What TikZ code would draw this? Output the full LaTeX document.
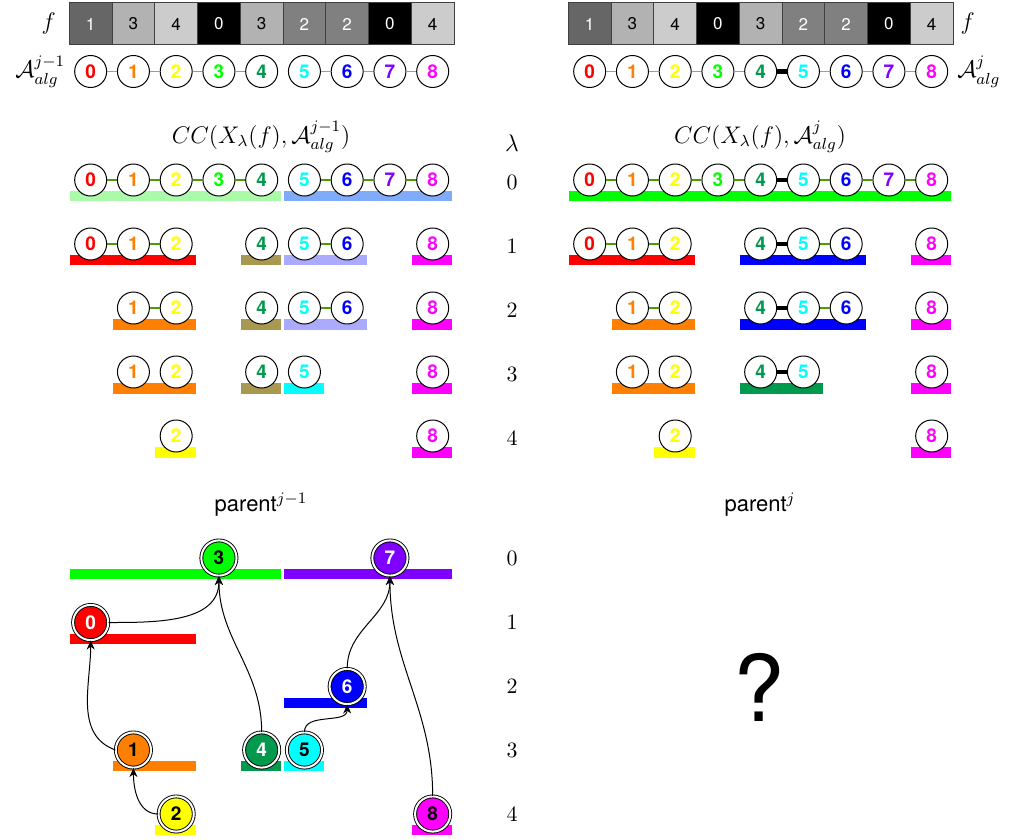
\documentclass[tikz,border=0pt]{standalone}
\usepackage{amsmath,amssymb}
\usepackage{fontspec}
\setsansfont{TeX Gyre Heros}
\usepackage{tikz}
\usetikzlibrary{arrows.meta,positioning,calc}
\usepackage{xcolor}
% one colour per vertex
\definecolor{V0}{HTML}{FF0000}
\definecolor{V1}{HTML}{FF8000}
\definecolor{V2}{HTML}{FFFF00}
\definecolor{V3}{HTML}{00FF00}
\definecolor{V4}{HTML}{00994D}
\definecolor{V5}{HTML}{00FFFF}
\definecolor{V6}{HTML}{0000FF}
\definecolor{V7}{HTML}{8000FF}
\definecolor{V8}{HTML}{FF00FF}
% washed-out component bands
\definecolor{PaleGreen}{HTML}{AAFAAA}
\definecolor{PaleBlue}{HTML}{80AAFA}
\definecolor{Olive}{HTML}{A89850}
\definecolor{Lavender}{HTML}{AAAAFF}
% grey level of each value of f
\definecolor{F0}{gray}{0}
\definecolor{F1}{gray}{0.4}
\definecolor{F2}{gray}{0.5}
\definecolor{F3}{gray}{0.7}
\definecolor{F4}{gray}{0.8}
\definecolor{LinkTop}{HTML}{7CC03A}
\definecolor{LinkCC}{HTML}{4E9A06}
% column origins and cell width (in px units)
\newcommand{\colL}{69.3}
\newcommand{\colR}{568.3}
\newcommand{\cellw}{42.75}
\tikzset{
  fcell/.style={draw=black!75, line width=0.5pt, minimum width=21.37pt,
    minimum height=21pt, inner sep=0pt,
    font=\sffamily\fontsize{8.5}{10}\selectfont, fill=F#1},
  vtx/.style={circle, draw, line width=0.5pt, fill=white, minimum size=16pt,
    inner sep=0pt, font=\sffamily\bfseries\fontsize{9.5}{10}\selectfont, text=V#1},
  rootvtx/.style={circle, draw, line width=0.45pt, double=white,
    double distance=1pt, fill=V#1, minimum size=17.6pt, inner sep=0pt,
    font=\sffamily\bfseries\fontsize{9.5}{10}\selectfont},
  toplink/.style={draw=LinkTop, line width=0.85pt},
  cclink/.style={draw=LinkCC, line width=0.7pt},
  fatlink/.style={draw=black, line width=2.2pt},
  uparr/.style={-{Stealth[length=4.5pt,width=4pt]}, line width=0.5pt},
  mathlabel/.style={font=\fontsize{11.5}{13}\selectfont},
}

\begin{document}
\begin{tikzpicture}[x=0.5pt, y=-0.5pt, font=\fontsize{10.5}{12}\selectfont]
  \useasboundingbox (0,0) rectangle (1010,839);

  % values of f, twice
  \foreach \v/\tc [count=\i from 0] in {1/white,3/black,4/black,0/white,3/black,2/white,2/white,0/white,4/black} {
    \node[fcell=\v, text=\tc] (fl\i) at ({\colL+(\i+0.5)*\cellw},24) {\v};
    \node[fcell=\v, text=\tc] (fr\i) at ({\colR+(\i+0.5)*\cellw},24) {\v};
  }
  \node[mathlabel, left=3pt of fl0] (fL) {$f$};
  \node[mathlabel, right=0pt of fr8] (fR) {$f$};

  % the two graphs
  \foreach \i in {0,...,8} {
    \node[vtx=\i] (al\i) at ({\colL+(\i+0.5)*\cellw},71.5) {\i};
    \node[vtx=\i] (ar\i) at ({\colR+(\i+0.5)*\cellw},71.5) {\i};
  }
  \foreach \a/\b in {0/1,1/2,2/3,3/4,5/6,6/7,7/8} {
    \draw[toplink] (al\a) -- (al\b);
    \draw[toplink] (ar\a) -- (ar\b);
  }
  \draw[fatlink] (ar4) -- (ar5);
  \node[mathlabel, left=1pt of al0] (AL) {$\mathcal{A}_{alg}^{j-1}$};
  \node[mathlabel, right=1pt of ar8] (AR) {$\mathcal{A}_{alg}^{j}$};

  % titles and lambda column
  \node[font=\fontsize{12}{14}\selectfont] (ccL) at (261,137) {$CC(X_\lambda(f),\mathcal{A}_{alg}^{j-1})$};
  \node[font=\fontsize{12}{14}\selectfont] (ccR) at (760,137) {$CC(X_\lambda(f),\mathcal{A}_{alg}^{j})$};
  \node[mathlabel] (lam) at (512,143) {$\lambda$};
  \foreach \k in {0,...,4} {
    \node (lc\k) at (512,{182+64*\k}) {$\k$};
    \node (lt\k) at (512,{558+64.2*\k}) {$\k$};
  }

  % component bands, left
  \foreach \a/\b/\y/\col in {0/4/180/PaleGreen, 5/8/180/PaleBlue,
      0/2/244/V0, 4/4/244/Olive, 5/6/244/Lavender, 8/8/244/V8,
      1/2/308/V1, 4/4/308/Olive, 5/6/308/Lavender, 8/8/308/V8,
      1/2/372/V1, 4/4/372/Olive, 5/5/372/V5, 8/8/372/V8,
      2/2/436/V2, 8/8/436/V8}
    \fill[fill=\col] ({\colL+\a*\cellw+0.5},{\y+11}) rectangle ({\colL+(\b+1)*\cellw-2},{\y+21.5});
  % component bands, right
  \foreach \a/\b/\y/\col in {0/8/180/V3,
      0/2/244/V0, 4/6/244/V6, 8/8/244/V8,
      1/2/308/V1, 4/6/308/V6, 8/8/308/V8,
      1/2/372/V1, 4/5/372/V4, 8/8/372/V8,
      2/2/436/V2, 8/8/436/V8}
    \fill[fill=\col] ({\colR+\a*\cellw+0.5},{\y+11}) rectangle ({\colR+(\b+1)*\cellw-2},{\y+21.5});

  % vertices of every level set
  \foreach \vs [count=\k from 0] in {{0,1,2,3,4,5,6,7,8}, {0,1,2,4,5,6,8},
      {1,2,4,5,6,8}, {1,2,4,5,8}, {2,8}} {
    \foreach \i in \vs {
      \node[vtx=\i] (l\k-\i) at ({\colL+(\i+0.5)*\cellw},{180+64*\k}) {\i};
      \node[vtx=\i] (r\k-\i) at ({\colR+(\i+0.5)*\cellw},{180+64*\k}) {\i};
    }
  }
  \foreach \k/\a/\b in {0/0/1,0/1/2,0/2/3,0/3/4,0/5/6,0/6/7,0/7/8,
      1/0/1,1/1/2,1/5/6, 2/1/2,2/5/6} {
    \draw[cclink] (l\k-\a) -- (l\k-\b);
    \draw[cclink] (r\k-\a) -- (r\k-\b);
  }
  \foreach \k in {0,1,2,3}
    \draw[fatlink] (r\k-4) -- (r\k-5);

  % parent forest
  \node[font=\sffamily\fontsize{11}{13}\selectfont] (parL) at (261,505) {parent$^{j-1}$};
  \node[font=\sffamily\fontsize{11}{13}\selectfont] (parR) at (760,505) {parent$^{j}$};
  \foreach \a/\b/\y/\col in {0/4/558/V3, 5/8/558/V7, 0/2/622.5/V0, 5/6/686.5/V6,
      1/2/750/V1, 4/4/750/V4, 5/5/750/V5, 2/2/814/V2, 8/8/814/V8}
    \fill[fill=\col] ({\colL+\a*\cellw+0.5},{\y+11}) rectangle ({\colL+(\b+1)*\cellw-2},{\y+21});
  \foreach \i/\y/\tc in {3/558/black, 7/558/white, 0/622.5/white, 6/686.5/white,
      1/750/black, 4/750/white, 5/750/black, 2/814/black, 8/814/black}
    \node[rootvtx=\i, text=\tc] (t\i) at ({\colL+(\i+0.5)*\cellw},\y) {\i};
  \draw[uparr] (t0.east) to[out=0,in=-90] (t3.south);
  \draw[uparr] (t4.north) to[out=90,in=-90] (t3.south);
  \draw[uparr] (t1.west) to[out=160,in=-90] (t0.south);
  \draw[uparr] (t2.west) to[out=180,in=-90] (t1.south);
  \draw[uparr] (t5.north) to[out=90,in=-90] (t6.south);
  \draw[uparr] (t6.north) to[out=90,in=-90] (t7.south);
  \draw[uparr] (t8.north) to[out=90,in=-90] (t7.south);

  \node[font=\sffamily\fontsize{46}{50}\selectfont] (qm) at (759,687) {?};
\end{tikzpicture}
\end{document}
